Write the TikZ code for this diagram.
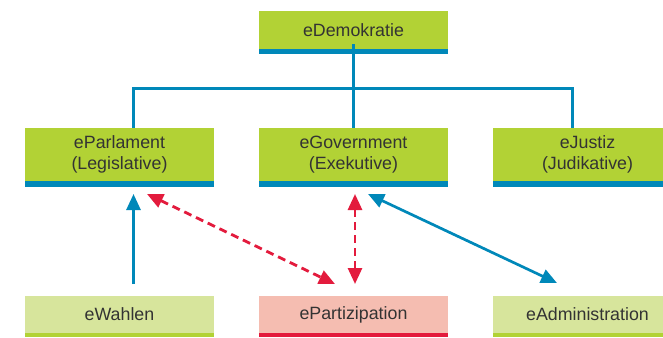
\documentclass[tikz,border=0pt]{standalone}
\usepackage{fontspec}
\setmainfont{Liberation Sans}
\usetikzlibrary{arrows.meta}
\definecolor{cgreen}{HTML}{B2D235}
\definecolor{clight}{HTML}{D7E59C}
\definecolor{cpink}{HTML}{F5BDB1}
\definecolor{cblue}{HTML}{0088B9}
\definecolor{cred}{HTML}{E31B3D}
\definecolor{ctext}{HTML}{333333}
\begin{document}
\begin{tikzpicture}[x=1pt,y=-1pt,
  box/.style={draw=none, minimum width=189pt, inner sep=0pt, align=center,
    text=ctext, font=\fontsize{17.8}{21}\selectfont},
  topbox/.style={box, fill=cgreen, minimum height=38pt},
  midbox/.style={box, fill=cgreen, minimum height=53pt},
  lowbox/.style={box, minimum height=37pt},
  tree/.style={cblue, line width=2.7pt},
  barb/.style={fill=cblue},
  tip/.style={Triangle[length=16pt,width=14pt]},
  blarrow/.style={cblue, line width=2.7pt, -{Triangle[length=16pt,width=14pt]}},
  blboth/.style={cblue, line width=2.7pt, {Triangle[length=16pt,width=14pt]}-{Triangle[length=16pt,width=14pt]}},
  redboth/.style={cred, line width=2.8pt, dash pattern=on 8pt off 5pt, {Triangle[length=16pt,width=14pt]}-{Triangle[length=16pt,width=14pt]}}
]
\useasboundingbox (0,0) rectangle (663,337);
% boxes
\node[topbox] (dem) at (353.5,30) {eDemokratie};
\fill[barb] (dem.south west) rectangle ++(189,5);
\node[midbox] (parl) at (119.5,154.5) {eParlament\\(Legislative)};
\fill[barb] (parl.south west) rectangle ++(189,6);
\node[midbox] (gov) at (353.5,154.5) {eGovernment\\(Exekutive)};
\fill[barb] (gov.south west) rectangle ++(189,6);
\node[midbox] (jus) at (587.5,154.5) {eJustiz\\(Judikative)};
\fill[barb] (jus.south west) rectangle ++(189,6);
\node[lowbox, fill=clight] (wah) at (119.5,314.5) {eWahlen};
\fill[cgreen] (wah.south west) rectangle ++(189,4);
\node[lowbox, fill=cpink] (par) at (353.5,314.5) {ePartizipation};
\fill[cred] (par.south west) rectangle ++(189,4);
\node[lowbox, fill=clight] (adm) at (587.5,314.5) {eAdministration};
\fill[cgreen] (adm.south west) rectangle ++(189,4);
% tree
\coordinate (hl) at (133.3,88.7);
\coordinate (hr) at (572.5,88.7);
\draw[tree] ([yshift=5pt]dem.south) -- (gov.north);
\draw[tree] ([xshift=13.8pt]parl.north) |- (hl) -- (hr) -- ([xshift=-15pt]jus.north);
% arrows
\coordinate (w1) at (133.5,284);
\coordinate (w2) at (133.5,194);
\draw[blarrow] (w1) -- (w2);
\coordinate (r1) at (147,194);
\coordinate (r2) at (335,284);
\draw[redboth] (r1) -- (r2);
\coordinate (v1) at (355,194);
\coordinate (v2) at (355,284);
\draw[redboth] (v1) -- (v2);
\coordinate (b1) at (368,194);
\coordinate (b2) at (557,283);
\draw[blboth] (b1) -- (b2);
\end{tikzpicture}
\end{document}
